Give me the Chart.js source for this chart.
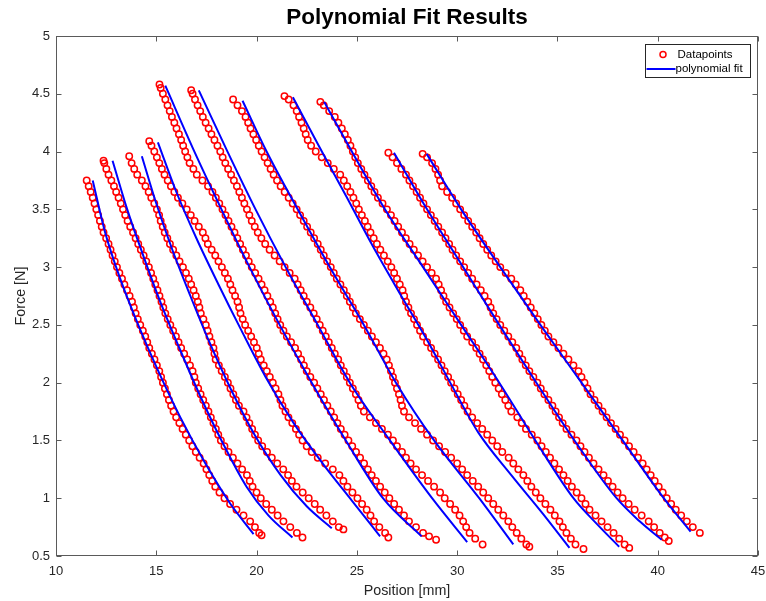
<!DOCTYPE html>
<html>
<head>
<meta charset="utf-8">
<title>Polynomial Fit Results</title>
<script src="https://cdn.jsdelivr.net/npm/chart.js@4.4.0/dist/chart.umd.min.js"></script>
<style>
  html, body { margin: 0; padding: 0; background: #fff; }
  #wrap { width: 766px; height: 601px; }
</style>
</head>
<body>
<div id="wrap"><canvas id="fitChart" width="766" height="601"></canvas></div>
<script>
// Axis ticks
const xTicks = [10, 15, 20, 25, 30, 35, 40, 45];
const yTicks = [0.5, 1, 1.5, 2, 2.5, 3, 3.5, 4, 4.5, 5];

// Measured datapoints, [position mm, force N], one array per sweep
const curveA = [[11.53,3.75],[11.63,3.70],[11.73,3.65],[11.83,3.60],[11.92,3.55],[12.01,3.50],[12.10,3.45],[12.19,3.40],[12.28,3.35],[12.37,3.30],
  [12.50,3.25],[12.62,3.20],[12.72,3.15],[12.82,3.10],[12.93,3.05],[13.04,3.00],[13.16,2.95],[13.29,2.90],[13.41,2.85],[13.54,2.80],
  [13.67,2.75],[13.79,2.70],[13.88,2.65],[13.97,2.60],[14.08,2.55],[14.20,2.50],[14.33,2.45],[14.45,2.40],[14.55,2.35],[14.65,2.30],
  [14.78,2.25],[14.91,2.20],[15.03,2.15],[15.15,2.10],[15.24,2.05],[15.33,2.00],[15.43,1.95],[15.53,1.90],[15.63,1.85],[15.74,1.80],
  [15.86,1.75],[15.99,1.70],[16.15,1.65],[16.31,1.60],[16.47,1.55],[16.64,1.50],[16.80,1.45],[16.97,1.40],[17.16,1.35],[17.36,1.30],
  [17.50,1.25],[17.64,1.20],[17.79,1.15],[17.94,1.10],[18.15,1.05],[18.40,1.00],[18.68,0.95],[19.00,0.90],[19.35,0.85],[19.68,0.80],
  [19.92,0.75],[20.13,0.70],[20.25,0.68]];
const curveB = [[12.37,3.92],[12.41,3.90],[12.51,3.85],[12.62,3.80],[12.76,3.75],[12.89,3.70],[13.00,3.65],[13.12,3.60],[13.23,3.55],[13.34,3.50],
  [13.45,3.45],[13.57,3.40],[13.70,3.35],[13.84,3.30],[13.97,3.25],[14.10,3.20],[14.23,3.15],[14.37,3.10],[14.50,3.05],[14.63,3.00],
  [14.74,2.95],[14.85,2.90],[14.95,2.85],[15.06,2.80],[15.16,2.75],[15.26,2.70],[15.35,2.65],[15.45,2.60],[15.57,2.55],[15.70,2.50],
  [15.84,2.45],[15.98,2.40],[16.11,2.35],[16.24,2.30],[16.39,2.25],[16.54,2.20],[16.68,2.15],[16.81,2.10],[16.90,2.05],[16.97,2.00],
  [17.09,1.95],[17.21,1.90],[17.34,1.85],[17.47,1.80],[17.60,1.75],[17.72,1.70],[17.85,1.65],[17.97,1.60],[18.09,1.55],[18.22,1.50],
  [18.40,1.45],[18.60,1.40],[18.82,1.35],[19.05,1.30],[19.28,1.25],[19.52,1.20],[19.66,1.15],[19.80,1.10],[20.00,1.05],[20.21,1.00],
  [20.48,0.95],[20.76,0.90],[21.05,0.85],[21.34,0.80],[21.68,0.75],[22.01,0.70],[22.29,0.66]];
const curveC = [[13.65,3.96],[13.77,3.90],[13.90,3.85],[14.05,3.80],[14.28,3.75],[14.46,3.70],[14.62,3.65],[14.75,3.60],[14.90,3.55],[15.03,3.50],
  [15.14,3.45],[15.22,3.40],[15.32,3.35],[15.42,3.30],[15.55,3.25],[15.68,3.20],[15.84,3.15],[16.00,3.10],[16.16,3.05],[16.33,3.00],
  [16.48,2.95],[16.62,2.90],[16.74,2.85],[16.86,2.80],[16.97,2.75],[17.07,2.70],[17.15,2.65],[17.22,2.60],[17.35,2.55],[17.47,2.50],
  [17.56,2.45],[17.65,2.40],[17.75,2.35],[17.85,2.30],[17.90,2.25],[17.96,2.20],[18.12,2.15],[18.26,2.10],[18.42,2.05],[18.57,2.00],
  [18.70,1.95],[18.84,1.90],[18.97,1.85],[19.12,1.80],[19.35,1.75],[19.50,1.70],[19.64,1.65],[19.78,1.60],[19.92,1.55],[20.08,1.50],
  [20.28,1.45],[20.52,1.40],[20.76,1.35],[21.03,1.30],[21.33,1.25],[21.57,1.20],[21.76,1.15],[21.99,1.10],[22.30,1.05],[22.60,1.00],
  [22.90,0.95],[23.17,0.90],[23.48,0.85],[23.80,0.80],[24.10,0.75],[24.33,0.73]];
const curveD = [[14.65,4.09],[14.76,4.05],[14.90,4.00],[15.03,3.95],[15.15,3.90],[15.28,3.85],[15.41,3.80],[15.57,3.75],[15.73,3.70],[15.90,3.65],
  [16.08,3.60],[16.30,3.55],[16.52,3.50],[16.72,3.45],[16.91,3.40],[17.12,3.35],[17.32,3.30],[17.45,3.25],[17.57,3.20],[17.76,3.15],
  [17.94,3.10],[18.10,3.05],[18.27,3.00],[18.42,2.95],[18.57,2.90],[18.69,2.85],[18.80,2.80],[18.93,2.75],[19.05,2.70],[19.13,2.65],
  [19.20,2.60],[19.31,2.55],[19.43,2.50],[19.58,2.45],[19.73,2.40],[19.87,2.35],[20.01,2.30],[20.11,2.25],[20.21,2.20],[20.36,2.15],
  [20.51,2.10],[20.66,2.05],[20.81,2.00],[20.95,1.95],[21.09,1.90],[21.19,1.85],[21.29,1.80],[21.44,1.75],[21.59,1.70],[21.78,1.65],
  [21.96,1.60],[22.12,1.55],[22.29,1.50],[22.50,1.45],[22.75,1.40],[23.05,1.35],[23.42,1.30],[23.80,1.25],[24.13,1.20],[24.33,1.15],
  [24.53,1.10],[24.78,1.05],[25.03,1.00],[25.26,0.95],[25.49,0.90],[25.68,0.85],[25.86,0.80],[26.12,0.75],[26.41,0.70],[26.57,0.66]];
const curveE = [[15.16,4.58],[15.22,4.55],[15.33,4.50],[15.45,4.45],[15.56,4.40],[15.67,4.35],[15.78,4.30],[15.90,4.25],[16.01,4.20],[16.13,4.15],
  [16.24,4.10],[16.34,4.05],[16.44,4.00],[16.55,3.95],[16.66,3.90],[16.85,3.85],[17.02,3.80],[17.30,3.75],[17.58,3.70],[17.80,3.65],
  [17.97,3.60],[18.14,3.55],[18.30,3.50],[18.45,3.45],[18.60,3.40],[18.75,3.35],[18.90,3.30],[19.04,3.25],[19.18,3.20],[19.32,3.15],
  [19.47,3.10],[19.61,3.05],[19.76,3.00],[19.93,2.95],[20.10,2.90],[20.25,2.85],[20.40,2.80],[20.54,2.75],[20.68,2.70],[20.81,2.65],
  [20.93,2.60],[21.05,2.55],[21.18,2.50],[21.34,2.45],[21.51,2.40],[21.72,2.35],[21.92,2.30],[22.07,2.25],[22.22,2.20],[22.36,2.15],
  [22.50,2.10],[22.68,2.05],[22.87,2.00],[23.03,1.95],[23.20,1.90],[23.36,1.85],[23.53,1.80],[23.70,1.75],[23.87,1.70],[24.03,1.65],
  [24.20,1.60],[24.39,1.55],[24.58,1.50],[24.77,1.45],[24.96,1.40],[25.16,1.35],[25.36,1.30],[25.55,1.25],[25.74,1.20],[25.95,1.15],
  [26.16,1.10],[26.39,1.05],[26.62,1.00],[26.86,0.95],[27.10,0.90],[27.35,0.85],[27.60,0.80],[27.95,0.75],[28.30,0.70],[28.60,0.67],[28.95,0.64]];
const curveF = [[16.74,4.53],[16.81,4.50],[16.93,4.45],[17.06,4.40],[17.19,4.35],[17.32,4.30],[17.46,4.25],[17.61,4.20],[17.75,4.15],[17.90,4.10],
  [18.05,4.05],[18.19,4.00],[18.31,3.95],[18.44,3.90],[18.58,3.85],[18.73,3.80],[18.87,3.75],[19.02,3.70],[19.14,3.65],[19.27,3.60],
  [19.39,3.55],[19.52,3.50],[19.64,3.45],[19.76,3.40],[19.91,3.35],[20.06,3.30],[20.24,3.25],[20.43,3.20],[20.65,3.15],[20.90,3.10],
  [21.15,3.05],[21.40,3.00],[21.65,2.95],[21.90,2.90],[22.05,2.85],[22.20,2.80],[22.35,2.75],[22.50,2.70],[22.68,2.65],[22.85,2.60],
  [23.00,2.55],[23.15,2.50],[23.30,2.45],[23.45,2.40],[23.60,2.35],[23.75,2.30],[23.90,2.25],[24.07,2.20],[24.20,2.15],[24.35,2.10],
  [24.50,2.05],[24.65,2.00],[24.80,1.95],[24.95,1.90],[25.08,1.85],[25.20,1.80],[25.35,1.75],[25.65,1.70],[25.95,1.65],[26.25,1.60],
  [26.55,1.55],[26.80,1.50],[27.00,1.45],[27.25,1.40],[27.45,1.35],[27.68,1.30],[27.95,1.25],[28.25,1.20],[28.55,1.15],[28.85,1.10],
  [29.15,1.05],[29.38,1.00],[29.65,0.95],[29.90,0.90],[30.12,0.85],[30.30,0.80],[30.45,0.75],[30.62,0.70],[30.90,0.65],[31.27,0.60]];
const curveG = [[18.83,4.45],[19.05,4.40],[19.27,4.35],[19.45,4.30],[19.58,4.25],[19.70,4.20],[19.84,4.15],[19.98,4.10],[20.11,4.05],[20.25,4.00],
  [20.40,3.95],[20.55,3.90],[20.70,3.85],[20.85,3.80],[21.02,3.75],[21.20,3.70],[21.40,3.65],[21.60,3.60],[21.80,3.55],[22.00,3.50],
  [22.17,3.45],[22.35,3.40],[22.52,3.35],[22.70,3.30],[22.87,3.25],[23.05,3.20],[23.20,3.15],[23.35,3.10],[23.52,3.05],[23.70,3.00],
  [23.85,2.95],[24.00,2.90],[24.18,2.85],[24.35,2.80],[24.50,2.75],[24.65,2.70],[24.80,2.65],[24.95,2.60],[25.15,2.55],[25.35,2.50],
  [25.55,2.45],[25.75,2.40],[25.95,2.35],[26.15,2.30],[26.33,2.25],[26.49,2.20],[26.60,2.15],[26.70,2.10],[26.80,2.05],[26.90,2.00],
  [27.00,1.95],[27.10,1.90],[27.18,1.85],[27.25,1.80],[27.35,1.75],[27.60,1.70],[27.90,1.65],[28.20,1.60],[28.50,1.55],[28.80,1.50],
  [29.10,1.45],[29.40,1.40],[29.70,1.35],[30.00,1.30],[30.25,1.25],[30.50,1.20],[30.78,1.15],[31.05,1.10],[31.30,1.05],[31.55,1.00],
  [31.80,0.95],[32.05,0.90],[32.30,0.85],[32.55,0.80],[32.75,0.75],[32.97,0.70],[33.20,0.65],[33.45,0.60],[33.60,0.58]];
const curveH = [[21.39,4.48],[21.60,4.45],[21.84,4.40],[22.00,4.35],[22.12,4.30],[22.24,4.25],[22.35,4.20],[22.45,4.15],[22.55,4.10],[22.72,4.05],
  [22.95,4.00],[23.25,3.95],[23.55,3.90],[23.85,3.85],[24.17,3.80],[24.35,3.75],[24.52,3.70],[24.68,3.65],[24.83,3.60],[24.97,3.55],
  [25.10,3.50],[25.25,3.45],[25.40,3.40],[25.54,3.35],[25.68,3.30],[25.84,3.25],[26.00,3.20],[26.17,3.15],[26.35,3.10],[26.54,3.05],
  [26.72,3.00],[26.86,2.95],[27.00,2.90],[27.14,2.85],[27.28,2.80],[27.36,2.75],[27.45,2.70],[27.57,2.65],[27.70,2.60],[27.85,2.55],
  [28.00,2.50],[28.15,2.45],[28.30,2.40],[28.50,2.35],[28.70,2.30],[28.88,2.25],[29.05,2.20],[29.22,2.15],[29.38,2.10],[29.55,2.05],
  [29.70,2.00],[29.87,1.95],[30.03,1.90],[30.20,1.85],[30.36,1.80],[30.52,1.75],[30.75,1.70],[31.00,1.65],[31.25,1.60],[31.50,1.55],
  [31.75,1.50],[32.00,1.45],[32.25,1.40],[32.57,1.35],[32.80,1.30],[33.05,1.25],[33.30,1.20],[33.50,1.15],[33.70,1.10],[33.92,1.05],
  [34.15,1.00],[34.40,0.95],[34.65,0.90],[34.87,0.85],[35.10,0.80],[35.27,0.75],[35.45,0.70],[35.67,0.65],[35.90,0.60],[36.30,0.56]];
const curveI = [[23.18,4.43],[23.35,4.40],[23.62,4.35],[23.90,4.30],[24.08,4.25],[24.25,4.20],[24.40,4.15],[24.55,4.10],[24.68,4.05],[24.80,4.00],
  [24.92,3.95],[25.05,3.90],[25.22,3.85],[25.38,3.80],[25.55,3.75],[25.72,3.70],[25.88,3.65],[26.05,3.60],[26.28,3.55],[26.50,3.50],
  [26.70,3.45],[26.88,3.40],[27.06,3.35],[27.25,3.30],[27.44,3.25],[27.63,3.20],[27.84,3.15],[28.05,3.10],[28.28,3.05],[28.50,3.00],
  [28.73,2.95],[28.95,2.90],[29.08,2.85],[29.20,2.80],[29.32,2.75],[29.45,2.70],[29.62,2.65],[29.80,2.60],[29.98,2.55],[30.15,2.50],
  [30.33,2.45],[30.50,2.40],[30.75,2.35],[30.95,2.30],[31.12,2.25],[31.29,2.20],[31.45,2.15],[31.60,2.10],[31.75,2.05],[31.90,2.00],
  [32.07,1.95],[32.23,1.90],[32.40,1.85],[32.55,1.80],[32.70,1.75],[33.00,1.70],[33.22,1.65],[33.43,1.60],[33.72,1.55],[34.00,1.50],
  [34.21,1.45],[34.42,1.40],[34.63,1.35],[34.85,1.30],[35.08,1.25],[35.30,1.20],[35.51,1.15],[35.72,1.10],[35.96,1.05],[36.20,1.00],
  [36.40,0.95],[36.60,0.90],[36.90,0.85],[37.20,0.80],[37.50,0.75],[37.80,0.70],[38.08,0.65],[38.35,0.60],[38.58,0.57]];
const curveJ = [[26.57,3.99],[26.78,3.95],[27.00,3.90],[27.22,3.85],[27.45,3.80],[27.62,3.75],[27.80,3.70],[27.98,3.65],[28.15,3.60],[28.32,3.55],
  [28.50,3.50],[28.69,3.45],[28.88,3.40],[29.06,3.35],[29.25,3.30],[29.42,3.25],[29.60,3.20],[29.77,3.15],[29.95,3.10],[30.15,3.05],
  [30.35,3.00],[30.55,2.95],[30.75,2.90],[30.97,2.85],[31.18,2.80],[31.37,2.75],[31.55,2.70],[31.67,2.65],[31.80,2.60],[31.97,2.55],
  [32.15,2.50],[32.35,2.45],[32.55,2.40],[32.75,2.35],[32.95,2.30],[33.10,2.25],[33.25,2.20],[33.42,2.15],[33.60,2.10],[33.80,2.05],
  [34.00,2.00],[34.17,1.95],[34.35,1.90],[34.55,1.85],[34.75,1.80],[34.91,1.75],[35.08,1.70],[35.26,1.65],[35.45,1.60],[35.70,1.55],
  [35.95,1.50],[36.15,1.45],[36.35,1.40],[36.57,1.35],[36.80,1.30],[37.05,1.25],[37.30,1.20],[37.52,1.15],[37.75,1.10],[38.00,1.05],
  [38.25,1.00],[38.55,0.95],[38.85,0.90],[39.20,0.85],[39.55,0.80],[39.82,0.75],[40.10,0.70],[40.35,0.66],[40.55,0.63]];
const curveK = [[28.28,3.98],[28.50,3.95],[28.75,3.90],[28.92,3.85],[29.05,3.80],[29.15,3.75],[29.25,3.70],[29.50,3.65],[29.75,3.60],[29.95,3.55],
  [30.15,3.50],[30.35,3.45],[30.55,3.40],[30.75,3.35],[30.95,3.30],[31.12,3.25],[31.30,3.20],[31.50,3.15],[31.70,3.10],[31.92,3.05],
  [32.15,3.00],[32.42,2.95],[32.70,2.90],[32.92,2.85],[33.15,2.80],[33.32,2.75],[33.50,2.70],[33.67,2.65],[33.85,2.60],[34.02,2.55],
  [34.20,2.50],[34.37,2.45],[34.55,2.40],[34.80,2.35],[35.05,2.30],[35.30,2.25],[35.55,2.20],[35.80,2.15],[36.05,2.10],[36.20,2.05],
  [36.35,2.00],[36.50,1.95],[36.65,1.90],[36.85,1.85],[37.05,1.80],[37.25,1.75],[37.45,1.70],[37.67,1.65],[37.90,1.60],[38.12,1.55],
  [38.35,1.50],[38.57,1.45],[38.80,1.40],[39.02,1.35],[39.25,1.30],[39.45,1.25],[39.65,1.20],[39.85,1.15],[40.05,1.10],[40.25,1.05],
  [40.45,1.00],[40.67,0.95],[40.90,0.90],[41.17,0.85],[41.45,0.80],[41.75,0.75],[42.10,0.70]];

// Polynomial fit curves, same units
const fitA = [[11.83,3.75],[12.45,3.30],[13.20,2.90],[14.10,2.50],[15.10,2.10],[16.20,1.70],[17.45,1.30],[18.70,0.95],[19.85,0.69]];
const fitB = [[12.82,3.92],[13.55,3.50],[14.35,3.10],[15.20,2.70],[16.15,2.30],[17.15,1.90],[18.25,1.50],[19.50,1.10],[20.60,0.85],[21.79,0.66]];
const fitC = [[14.28,3.96],[15.00,3.55],[15.80,3.15],[16.70,2.75],[17.65,2.35],[18.70,1.95],[19.90,1.55],[21.20,1.20],[22.50,0.93],[23.75,0.74]];
const fitD = [[15.08,4.08],[16.00,3.65],[17.00,3.25],[18.10,2.85],[19.25,2.45],[20.45,2.05],[21.85,1.65],[23.30,1.30],[24.75,0.98],[26.16,0.67]];
const fitE = [[15.45,4.57],[16.90,4.00],[18.25,3.50],[19.65,3.00],[21.15,2.50],[22.75,2.00],[24.45,1.50],[26.30,1.00],[28.23,0.67]];
const fitF = [[17.12,4.53],[18.55,4.00],[19.95,3.50],[21.45,3.00],[23.05,2.50],[24.65,2.00],[26.65,1.50],[28.75,1.00],[30.50,0.62]];
const fitG = [[19.30,4.44],[20.50,4.00],[22.05,3.50],[23.65,3.00],[25.35,2.50],[26.95,2.00],[28.85,1.50],[31.10,1.00],[32.80,0.60]];
const fitH = [[21.81,4.47],[23.10,4.05],[24.45,3.62],[25.80,3.18],[27.15,2.77],[28.50,2.37],[29.75,1.97],[31.05,1.57],[32.70,1.20],[34.30,0.86],[35.60,0.57]];
const fitI = [[23.37,4.43],[24.75,4.00],[26.40,3.50],[28.30,3.00],[30.20,2.50],[32.10,2.00],[33.90,1.50],[35.80,1.00],[36.95,0.78],[38.08,0.58]];
const fitJ = [[26.85,3.99],[28.50,3.50],[30.30,3.00],[32.10,2.50],[33.95,2.00],[35.85,1.50],[37.95,1.00],[39.10,0.80],[40.20,0.64]];
const fitK = [[28.48,3.98],[30.20,3.50],[32.15,3.00],[34.15,2.50],[36.20,2.00],[38.25,1.50],[40.30,1.00],[41.64,0.71]];

const curves = [curveA, curveB, curveC, curveD, curveE, curveF, curveG, curveH, curveI, curveJ, curveK];
const fits = [fitA, fitB, fitC, fitD, fitE, fitF, fitG, fitH, fitI, fitJ, fitK];

const FONT = "'Liberation Sans', Arial, Helvetica, sans-serif";
const toXY = arr => arr.map(p => ({ x: p[0], y: p[1] }));

const datasets = [];
curves.forEach(c => {
  datasets.push({
    data: toXY(c),
    showLine: false,
    pointStyle: 'circle',
    pointRadius: 3.2,
    pointBorderWidth: 1.5,
    pointBorderColor: '#ff0000',
    pointBackgroundColor: 'rgba(0,0,0,0)',
    order: 1
  });
});
fits.forEach(f => {
  datasets.push({
    data: toXY(f),
    showLine: true,
    borderColor: '#0000ff',
    borderWidth: 2,
    pointRadius: 0,
    cubicInterpolationMode: 'monotone',
    fill: false,
    order: 0
  });
});

// MATLAB-like box, inward ticks, title, axis labels and legend
const matlabAxes = {
  id: 'matlabAxes',
  afterDatasetsDraw(chart) {
    const { ctx, chartArea: a, scales: { x, y } } = chart;
    const L = Math.round(a.left) + 0.5, R = Math.round(a.right) - 0.5;
    const T = Math.round(a.top) + 0.5, B = Math.round(a.bottom) - 0.5;
    ctx.save();
    ctx.strokeStyle = '#5a5a5a';
    ctx.lineWidth = 1;
    ctx.strokeRect(L, T, R - L, B - T);
    ctx.beginPath();
    xTicks.forEach(v => {
      const px = Math.round(x.getPixelForValue(v)) + 0.5;
      ctx.moveTo(px, B); ctx.lineTo(px, B - 5);
      ctx.moveTo(px, T); ctx.lineTo(px, T + 5);
    });
    yTicks.forEach(v => {
      const py = Math.round(y.getPixelForValue(v)) + 0.5;
      ctx.moveTo(L, py); ctx.lineTo(L + 5, py);
      ctx.moveTo(R, py); ctx.lineTo(R - 5, py);
    });
    ctx.stroke();

    // legend
    const bw = 105, bh = 33;
    const bx = Math.round(a.right) - 8 - bw + 0.5, by = Math.round(a.top) + 8 + 0.5;
    ctx.fillStyle = '#ffffff';
    ctx.fillRect(bx, by, bw, bh);
    ctx.strokeStyle = '#262626';
    ctx.strokeRect(bx, by, bw, bh);
    ctx.beginPath();
    ctx.strokeStyle = '#ff0000';
    ctx.lineWidth = 1.5;
    ctx.arc(bx + 17.5, by + 10, 3, 0, Math.PI * 2);
    ctx.stroke();
    ctx.beginPath();
    ctx.strokeStyle = '#0000ff';
    ctx.lineWidth = 2;
    ctx.moveTo(bx + 1, by + 24.5);
    ctx.lineTo(bx + 30, by + 24.5);
    ctx.stroke();
    ctx.fillStyle = '#000000';
    ctx.font = '11.5px ' + FONT;
    ctx.textAlign = 'left';
    ctx.textBaseline = 'middle';
    ctx.fillText('Datapoints', bx + 32, by + 10);
    ctx.fillText('polynomial fit', bx + 30, by + 24.5);

    // title and axis labels
    const cx = (a.left + a.right) / 2, cy = (a.top + a.bottom) / 2;
    ctx.textAlign = 'center';
    ctx.fillStyle = '#000000';
    ctx.font = 'bold 22.5px ' + FONT;
    ctx.fillText('Polynomial Fit Results', cx, 18);
    ctx.fillStyle = '#262626';
    ctx.font = '14.3px ' + FONT;
    ctx.fillText('Position [mm]', cx, 591);
    ctx.translate(21, cy);
    ctx.rotate(-Math.PI / 2);
    ctx.fillText('Force [N]', 0, 0);
    ctx.restore();
  }
};

const ctx = document.getElementById('fitChart').getContext('2d');
new Chart(ctx, {
  type: 'scatter',
  data: { datasets },
  options: {
    responsive: false,
    animation: false,
    events: [],
    layout: { padding: { top: 36, right: 8, left: 0, bottom: 0 } },
    plugins: {
      legend: { display: false },
      title: { display: false },
      tooltip: { enabled: false }
    },
    scales: {
      x: {
        type: 'linear',
        min: 10,
        max: 45,
        grid: { display: false, drawTicks: false, tickLength: 0 },
        border: { display: false },
        afterBuildTicks: s => { s.ticks = xTicks.map(v => ({ value: v })); },
        afterFit: s => { s.height = 45; s.paddingLeft = 0; s.paddingRight = 0; },
        ticks: {
          color: '#262626',
          font: { family: FONT, size: 13 },
          padding: 8,
          maxRotation: 0,
          autoSkip: false,
          callback: v => String(v)
        }
      },
      y: {
        type: 'linear',
        min: 0.5,
        max: 5,
        grid: { display: false, drawTicks: false, tickLength: 0 },
        border: { display: false },
        afterBuildTicks: s => { s.ticks = yTicks.map(v => ({ value: v })); },
        afterFit: s => { s.width = 56; s.paddingTop = 0; s.paddingBottom = 0; },
        ticks: {
          color: '#262626',
          font: { family: FONT, size: 13 },
          padding: 6,
          autoSkip: false,
          callback: v => String(v)
        }
      }
    }
  },
  plugins: [matlabAxes]
});
</script>
</body>
</html>
